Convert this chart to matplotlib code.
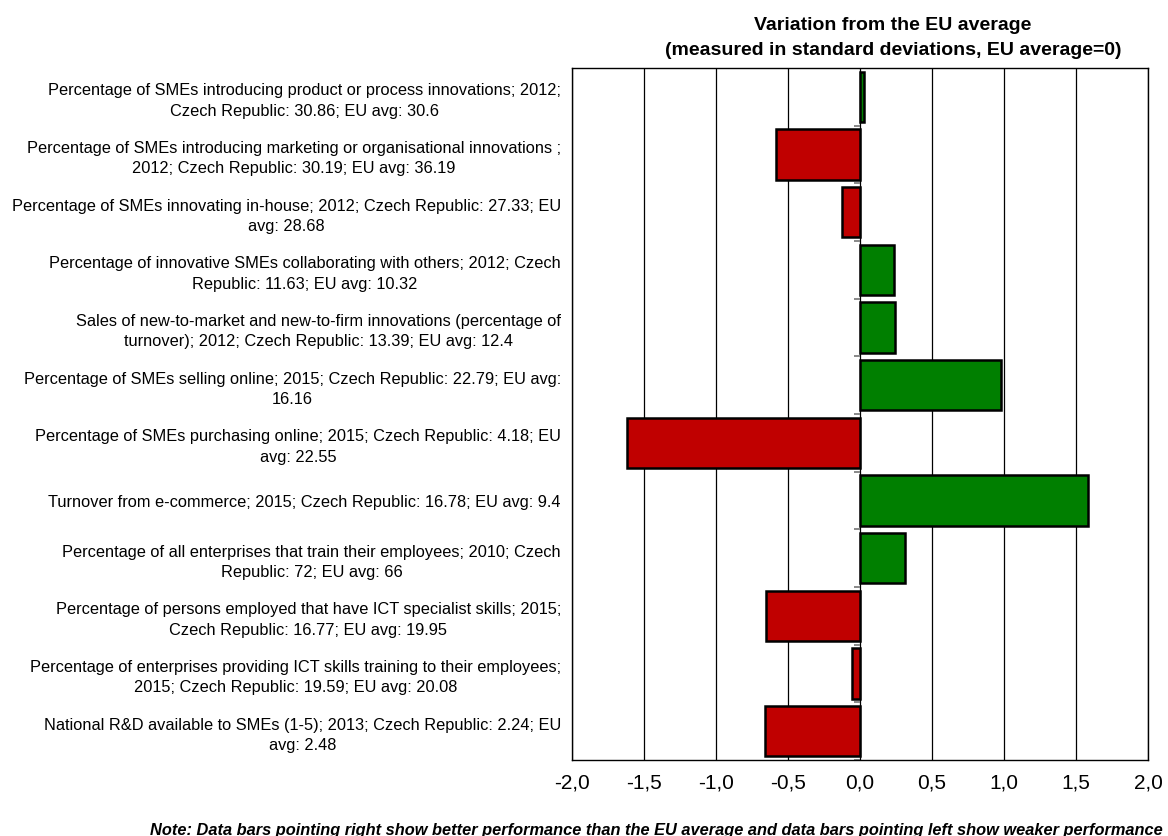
import matplotlib
matplotlib.use("Agg")
import matplotlib.pyplot as plt

plt.rcParams["font.family"] = ["Liberation Sans", "DejaVu Sans"]

labels = [
    "Percentage of SMEs introducing product or process innovations; 2012;\nCzech Republic: 30.86; EU avg: 30.6",
    "Percentage of SMEs introducing marketing or organisational innovations ;\n2012; Czech Republic: 30.19; EU avg: 36.19",
    "Percentage of SMEs innovating in-house; 2012; Czech Republic: 27.33; EU\navg: 28.68",
    "Percentage of innovative SMEs collaborating with others; 2012; Czech\nRepublic: 11.63; EU avg: 10.32",
    "Sales of new-to-market and new-to-firm innovations (percentage of\nturnover); 2012; Czech Republic: 13.39; EU avg: 12.4",
    "Percentage of SMEs selling online; 2015; Czech Republic: 22.79; EU avg:\n16.16",
    "Percentage of SMEs purchasing online; 2015; Czech Republic: 4.18; EU\navg: 22.55",
    "Turnover from e-commerce; 2015; Czech Republic: 16.78; EU avg: 9.4",
    "Percentage of all enterprises that train their employees; 2010; Czech\nRepublic: 72; EU avg: 66",
    "Percentage of persons employed that have ICT specialist skills; 2015;\nCzech Republic: 16.77; EU avg: 19.95",
    "Percentage of enterprises providing ICT skills training to their employees;\n2015; Czech Republic: 19.59; EU avg: 20.08",
    "National R&D available to SMEs (1-5); 2013; Czech Republic: 2.24; EU\navg: 2.48",
]
deviation = [0.025, -0.58, -0.125, 0.235, 0.245, 0.98, -1.62, 1.58, 0.315, -0.65, -0.055, -0.66]
x_ticks = [-2.0, -1.5, -1.0, -0.5, 0.0, 0.5, 1.0, 1.5, 2.0]
x_tick_labels = ["-2,0", "-1,5", "-1,0", "-0,5", "0,0", "0,5", "1,0", "1,5", "2,0"]

GREEN = "#007F00"
RED = "#C00000"

fig = plt.figure(figsize=(11.68, 8.36), dpi=100)
ax = fig.add_axes([572 / 1168, 1 - 760 / 836, 576 / 1168, 692 / 836])

n = len(deviation)
ypos = list(range(n))
colors = [GREEN if v >= 0 else RED for v in deviation]
ax.barh(ypos, deviation, height=0.87, color=colors, edgecolor="black",
        linewidth=1.8, zorder=3)

ax.set_xlim(-2.0, 2.0)
ax.set_ylim(n - 0.5, -0.5)
ax.set_xticks(x_ticks)
ax.set_xticklabels(x_tick_labels, fontsize=15)
ax.tick_params(axis="x", length=0, pad=10)
for x in x_ticks:
    ax.axvline(x, color="black", linewidth=0.9, zorder=1)

ax.set_yticks(ypos)
ax.set_yticklabels(labels, fontsize=11.8, linespacing=1.45)
for t in ax.get_yticklabels():
    t.set_multialignment("center")
ax.tick_params(axis="y", length=0, pad=8)

# category separators drawn as short ticks on the zero line
bounds = [i - 0.5 for i in range(n + 1)]
ax.hlines(bounds, -0.04, 0.0, color="#808080", linewidth=1.3, zorder=2)

for s in ax.spines.values():
    s.set_color("black")
    s.set_linewidth(1.0)

fig.text(893 / 1168, 1 - 38 / 836,
         "Variation from the EU average\n(measured in standard deviations, EU average=0)",
         ha="center", va="center", fontsize=14, fontweight="bold", linespacing=1.65)

fig.text(1163 / 1168, 1 - 830 / 836,
         "Note: Data bars pointing right show better performance than the EU average and data bars pointing left show weaker performance",
         ha="right", va="center", fontsize=11.8, fontweight="bold", fontstyle="italic")

fig.savefig("out.png", dpi=100, facecolor="white")
